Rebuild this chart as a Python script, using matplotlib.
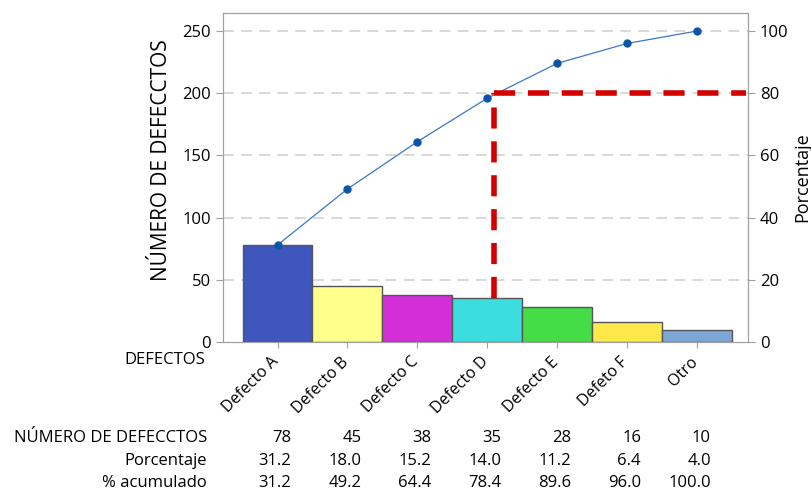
import numpy as np
import matplotlib
matplotlib.use("Agg")
import matplotlib.pyplot as plt
from matplotlib.transforms import blended_transform_factory, ScaledTranslation

plt.rcParams['font.family'] = ['Open Sans', 'DejaVu Sans']

defectos = ['Defecto A', 'Defecto B', 'Defecto C', 'Defecto D', 'Defecto E', 'Defeto F', 'Otro']
numero = [78, 45, 38, 35, 28, 16, 10]
porcentaje = [31.2, 18.0, 15.2, 14.0, 11.2, 6.4, 4.0]
acumulado = [31.2, 49.2, 64.4, 78.4, 89.6, 96.0, 100.0]
colores = ['#3F56BE', '#FFFF8C', '#D32ED8', '#3CDDDE', '#45DD45', '#FFE94A', '#7BA6D6']
corte = 80  # linea de pareto

fig = plt.figure(figsize=(8.12, 4.92), dpi=100)
ax = fig.add_axes([0.2746, 0.3049, 0.6466, 0.6687])
ax2 = ax.twinx()

x = np.arange(len(defectos))
total = sum(numero)
ax.bar(x, numero, width=1.0, color=colores, edgecolor='#555555', linewidth=1.0, zorder=3)
ax.set_xlim(-0.78, 6.73)
ax.set_ylim(0, 264.5)
ax2.set_ylim(0, 264.5 * 100 / total)

for yv in [50, 100, 150, 200, 250]:
    ax.axhline(yv, color='#D6D6D6', lw=1.3, ls=(0, (6, 4)), zorder=1)

ax2.plot(x, acumulado, color='#3A78C8', lw=0.9, marker='o', ms=5,
         mfc='#0B55A8', mec='#0B55A8', zorder=4)

# linea roja 80%
xr = 3.1
ax.plot([xr, xr], [numero[3], corte * total / 100], color='#D40000', lw=4,
        ls=(0, (3.8, 2.3)), zorder=5, solid_capstyle='butt')
ax2.plot([xr, 6.7], [corte, corte], color='#D40000', lw=4,
         ls=(0, (3.8, 2.3)), zorder=5)

ax.set_yticks([0, 50, 100, 150, 200, 250])
ax2.set_yticks([0, 20, 40, 60, 80, 100])
ax.set_xticks(x)
ax.set_xticklabels([])
# etiquetas giradas, ancladas al final del texto junto a la marca
desplaza = ScaledTranslation(-0.07, -0.12, fig.dpi_scale_trans)
for i, nombre in enumerate(defectos):
    ax.text(i, 0, nombre, transform=ax.get_xaxis_transform() + desplaza,
            rotation=45, ha='right', va='top', rotation_mode='anchor', fontsize=11.5)

for a in (ax, ax2):
    for s in a.spines.values():
        s.set_color('#A0A0A0')
    a.tick_params(colors='#A0A0A0', labelcolor='black', labelsize=12, length=5)
ax.tick_params(axis='x', length=4)

ax.set_ylabel('NÚMERO DE DEFECCTOS', fontsize=15)
ax.yaxis.set_label_coords(-0.097, 0.553)
ax2.set_ylabel('Porcentaje', fontsize=13)
ax2.yaxis.set_label_coords(1.086, 0.5)

fig.text(205 / 812, 1 - 360 / 492, 'DEFECTOS', ha='right', va='center', fontsize=12)

trans = blended_transform_factory(ax.transData, fig.transFigure)
filas = [('NÚMERO DE DEFECCTOS', [str(v) for v in numero], 1 - 438 / 492),
         ('Porcentaje', ['%.1f' % v for v in porcentaje], 1 - 461 / 492),
         ('% acumulado', ['%.1f' % v for v in acumulado], 1 - 483 / 492)]
for nombre, vals, yf in filas:
    fig.text(207 / 812, yf, nombre, ha='right', va='center', fontsize=12)
    for i, v in enumerate(vals):
        ax.text(i + 0.2, yf, v, transform=trans, ha='right', va='center', fontsize=12)

fig.savefig('out.png', dpi=100)
